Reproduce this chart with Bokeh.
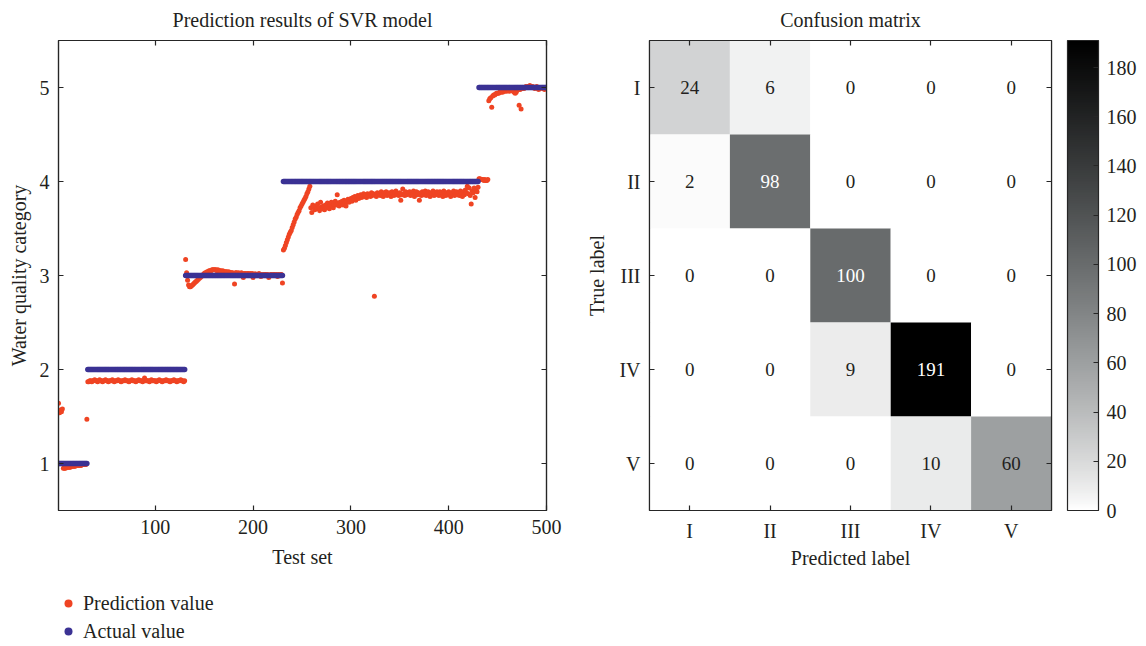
import numpy as np
from bokeh.plotting import figure
from bokeh.layouts import row, column
from bokeh.models import (Range1d, FixedTicker, LinearAxis, Legend, LegendItem,
                          LinearColorMapper, ColorBar, ColumnDataSource)
from bokeh.core.properties import value
from bokeh.embed import file_html
from bokeh.resources import INLINE

FONT = "Liberation Serif"
INK = "#231f20"
LINE = "#262626"
RED = "#ef4423"
BLUE = "#3b3294"

# ---------------- data: SVR predictions ----------------
class_values = [1, 2, 3, 4, 5]
class_sizes = [30, 100, 100, 200, 70]
x_ticks = [100, 200, 300, 400, 500]
y_ticks = [1, 2, 3, 4, 5]

pred_class_1 = [1.64, 1.54, 1.57, 1.55, 1.58,
                0.95, 0.95, 0.95, 0.96, 0.96, 0.96, 0.96, 0.96, 0.97, 0.97, 0.97, 0.97, 0.97,
                0.98, 0.98, 0.98, 0.98, 0.98, 0.98, 0.99, 0.99, 0.99, 0.99, 0.99,
                1.47]
pred_class_2 = [1.87, 1.87, 1.88, 1.88, 1.87, 1.88, 1.88, 1.89, 1.88, 1.88,
                1.87, 1.88, 1.89, 1.88, 1.88, 1.87, 1.88, 1.88, 1.89, 1.88,
                1.88, 1.87, 1.88, 1.88, 1.88, 1.89, 1.88, 1.87, 1.88, 1.88,
                1.88, 1.89, 1.88, 1.88, 1.87, 1.88, 1.88, 1.88, 1.89, 1.88,
                1.88, 1.88, 1.87, 1.88, 1.88, 1.89, 1.88, 1.88, 1.88, 1.87,
                1.88, 1.88, 1.89, 1.88, 1.88, 1.88, 1.87, 1.88, 1.91, 1.88,
                1.88, 1.88, 1.88, 1.87, 1.88, 1.89, 1.88, 1.88, 1.88, 1.88,
                1.87, 1.88, 1.88, 1.89, 1.88, 1.88, 1.87, 1.88, 1.88, 1.88,
                1.89, 1.88, 1.88, 1.88, 1.87, 1.88, 1.88, 1.88, 1.89, 1.88,
                1.88, 1.87, 1.88, 1.88, 1.88, 1.89, 1.88, 1.88, 1.87, 1.88]
pred_class_3 = [3.17, 3.03, 2.95, 2.90, 2.88, 2.88, 2.89, 2.90, 2.91, 2.92,
                2.93, 2.94, 2.95, 2.96, 2.97, 2.98, 2.99, 3.00, 3.01, 3.02,
                3.03, 3.03, 3.04, 3.04, 3.05, 3.05, 3.05, 3.06, 3.06, 3.06,
                3.06, 3.06, 3.05, 3.06, 3.05, 3.05, 3.05, 3.04, 3.05, 3.04,
                3.04, 3.04, 3.04, 3.03, 3.04, 3.03, 3.03, 3.03, 3.03, 3.02,
                2.91,
                3.03, 3.03, 3.02, 3.03, 3.02, 3.02, 3.03, 3.02, 2.98, 3.02,
                3.02, 3.01, 3.02, 3.02, 3.01, 3.02, 3.01, 3.02, 2.98, 3.01,
                3.02, 3.01, 3.01, 3.01, 3.02, 3.01, 2.99, 3.01, 3.00, 3.01,
                3.01, 3.01, 3.00, 3.01, 2.98, 3.00, 3.01, 3.01, 3.00, 3.01,
                3.01, 3.00, 3.01, 2.99, 3.01, 3.00, 3.01, 3.01,
                2.92]
pred_class_4 = [3.27, 3.29, 3.32, 3.35, 3.38, 3.41, 3.44, 3.46, 3.48,
                3.51, 3.54, 3.57, 3.60, 3.62, 3.65, 3.67, 3.69, 3.72, 3.74,
                3.76, 3.78, 3.80, 3.82, 3.84, 3.87, 3.89, 3.92, 3.95,
                3.72, 3.67, 3.75, 3.73, 3.70, 3.74, 3.71, 3.76, 3.72, 3.69,
                3.78, 3.73, 3.71, 3.74, 3.70, 3.75, 3.72, 3.77, 3.73, 3.71,
                3.75, 3.78, 3.74, 3.72, 3.76, 3.79, 3.75, 3.86, 3.77, 3.74,
                3.78, 3.76, 3.79, 3.75, 3.80, 3.77, 3.74, 3.79, 3.81, 3.78,
                3.80, 3.82, 3.79, 3.83, 3.81, 3.84, 3.80, 3.83, 3.85, 3.82,
                3.84, 3.86, 3.83, 3.85, 3.87, 3.84, 3.86, 3.83, 3.87, 3.85,
                3.86, 3.84, 3.88, 3.85, 3.87, 2.78, 3.86, 3.84, 3.88, 3.86,
                3.87, 3.85, 3.89, 3.86, 3.84, 3.88, 3.86, 3.89, 3.85, 3.87,
                3.88, 3.86, 3.84, 3.89, 3.87, 3.85, 3.88, 3.90, 3.86, 3.87,
                3.85, 3.88, 3.80, 3.86, 3.92, 3.87, 3.85, 3.89, 3.86, 3.88,
                3.87, 3.89, 3.85, 3.88, 3.86, 3.90, 3.84, 3.87, 3.89, 3.86,
                3.88, 3.80, 3.87, 3.85, 3.89, 3.86, 3.88, 3.90, 3.85, 3.87,
                3.89, 3.86, 3.84, 3.88, 3.87, 3.90, 3.85, 3.88, 3.86, 3.89,
                3.87, 3.85, 3.89, 3.86, 3.88, 3.84, 3.90, 3.87, 3.85, 3.88,
                3.86, 3.89, 3.87, 3.84, 3.88, 3.86, 3.90, 3.85, 3.87, 3.89,
                3.86, 3.88, 3.85, 3.90, 3.87, 3.84, 3.89, 3.86, 3.91, 3.88,
                3.95, 3.87, 3.93, 3.85, 3.76, 3.90, 3.88, 3.93, 3.83, 3.91,
                3.89, 3.94]
pred_class_5 = [4.03, 4.03, 4.02, 4.02, 4.02, 4.01, 4.02, 4.01, 4.01, 4.02,
                4.86, 4.88, 4.89, 4.79, 4.91, 4.92, 4.92, 4.93, 4.94, 4.94,
                4.94, 4.95, 4.95, 4.96, 4.95, 4.96, 4.96, 4.97, 4.96, 4.97,
                4.97, 4.96, 4.97, 4.98, 4.97, 4.96, 4.95, 4.94, 4.95, 4.97,
                4.98, 4.81, 4.98, 4.77, 4.99, 5.00, 4.99, 5.00, 5.01, 5.00,
                5.01, 5.01, 5.02, 5.01, 5.00, 5.01, 5.00, 4.99, 5.00, 5.01,
                4.99, 4.98, 4.99, 5.00, 5.00, 4.99, 5.00, 4.98, 4.99, 5.00]

# ---------------- data: confusion matrix ----------------
labels = ["I", "II", "III", "IV", "V"]
confusion = [[24, 6, 0, 0, 0],
             [2, 98, 0, 0, 0],
             [0, 0, 100, 0, 0],
             [0, 0, 9, 191, 0],
             [0, 0, 0, 10, 60]]
cbar_ticks = [0, 20, 40, 60, 80, 100, 120, 140, 160, 180]

prediction = pred_class_1 + pred_class_2 + pred_class_3 + pred_class_4 + pred_class_5
actual = list(np.repeat(class_values, class_sizes))
pred_src = ColumnDataSource(dict(x=list(range(1, len(prediction) + 1)), y=prediction))
act_src = ColumnDataSource(dict(x=list(range(1, len(actual) + 1)), y=actual))


def style_axis(ax):
    ax.axis_line_color = LINE
    ax.axis_line_width = 1.2
    ax.major_tick_in = 5
    ax.major_tick_out = 0
    ax.major_tick_line_color = LINE
    ax.major_tick_line_width = 1.2
    ax.minor_tick_line_color = None
    ax.major_label_text_font = FONT
    ax.major_label_text_font_size = "20px"
    ax.major_label_text_color = INK
    ax.axis_label_text_font = FONT
    ax.axis_label_text_font_size = "20px"
    ax.axis_label_text_font_style = "normal"
    ax.axis_label_text_color = INK
    ax.major_label_standoff = 9
    ax.axis_label_standoff = 9


def tick_only_axis(positions):
    # an axis with only inward (minor) ticks and no labels, for the top / right frame edges
    ax = LinearAxis(ticker=FixedTicker(ticks=[], minor_ticks=positions))
    ax.axis_line_color = LINE
    ax.axis_line_width = 1.2
    ax.major_tick_line_color = None
    ax.minor_tick_in = 5
    ax.minor_tick_out = 0
    ax.minor_tick_line_color = LINE
    ax.minor_tick_line_width = 1.2
    ax.major_label_standoff = 0
    return ax


def style_title(p, text):
    p.title.text = text
    p.title.align = "center"
    p.title.vertical_align = "top"
    p.title.text_font = FONT
    p.title.text_font_size = "20px"
    p.title.text_font_style = "normal"
    p.title.text_color = INK
    p.title.standoff = 15


# ---------------- left: SVR predictions ----------------
p1 = figure(width=568, height=580, x_range=Range1d(1, 500), y_range=Range1d(0.5, 5.5),
            output_backend="svg", toolbar_location=None,
            min_border_left=58, min_border_right=22, min_border_top=40, min_border_bottom=70)
style_title(p1, "Prediction results of SVR model")
p1.grid.visible = False
p1.outline_line_color = LINE
p1.outline_line_width = 1.2
p1.xaxis.ticker = FixedTicker(ticks=x_ticks)
p1.yaxis.ticker = FixedTicker(ticks=y_ticks)
p1.xaxis.axis_label = "Test set"
p1.yaxis.axis_label = "Water quality category"
for ax in p1.xaxis + p1.yaxis:
    style_axis(ax)
p1.yaxis.axis_label_standoff = 7
p1.add_layout(tick_only_axis(x_ticks), "above")
p1.add_layout(tick_only_axis(y_ticks), "right")

r_pred = p1.scatter("x", "y", source=pred_src, size=5, color=RED, line_width=0)
r_act = p1.scatter("x", "y", source=act_src, size=5.5, color=BLUE, line_width=0)

# legend strip below the left chart; its swatch renderers hold one undrawable (NaN) point
pl = figure(width=568, height=66, x_range=Range1d(0, 1), y_range=Range1d(0, 1),
            output_backend="svg", toolbar_location=None,
            x_axis_location=None, y_axis_location=None,
            min_border_left=58, min_border_right=0, min_border_top=11, min_border_bottom=0)
pl.grid.visible = False
pl.outline_line_color = None
nan_src = ColumnDataSource(dict(x=[float("nan")], y=[float("nan")]))
lg_pred = pl.scatter("x", "y", source=nan_src, size=5, color=RED, line_width=0)
lg_act = pl.scatter("x", "y", source=nan_src, size=5.5, color=BLUE, line_width=0)
legend = Legend(items=[LegendItem(label="Prediction value", renderers=[lg_pred]),
                       LegendItem(label="Actual value", renderers=[lg_act])],
                location="top_left", orientation="vertical", padding=0, margin=0,
                spacing=4, glyph_width=20, glyph_height=24, label_height=20,
                label_standoff=5, label_text_font=FONT, label_text_font_size="20px",
                label_text_color=INK, border_line_color=None, background_fill_alpha=0)
pl.add_layout(legend)

# ---------------- right: confusion matrix ----------------
pal = []
for i in range(256):
    t = i / 255
    g = 255 * (1 - t ** 0.85)
    tint = 3 * np.sin(np.pi * t)
    r = int(max(0, min(255, round(g - tint))))
    gg = int(max(0, min(255, round(g))))
    b = int(max(0, min(255, round(g + tint * 0.3))))
    pal.append("#%02x%02x%02x" % (r, gg, b))

vmax = max(max(rw) for rw in confusion)
mapper = LinearColorMapper(palette=pal, low=0, high=vmax)

xs, ys, cs, ts, tcs = [], [], [], [], []
for i, true_lab in enumerate(labels):
    for j, pred_lab in enumerate(labels):
        c = confusion[i][j]
        xs.append(pred_lab)
        ys.append(true_lab)
        cs.append(c)
        ts.append(str(c))
        tcs.append("white" if c > 0.45 * vmax else INK)
cm_src = ColumnDataSource(dict(x=xs, y=ys, count=cs, label=ts, tc=tcs))

p2 = figure(width=578, height=646, x_range=labels, y_range=list(reversed(labels)),
            output_backend="svg", toolbar_location=None,
            min_border_left=81, min_border_right=95, min_border_top=40, min_border_bottom=136)
style_title(p2, "Confusion matrix")
p2.grid.visible = False
p2.outline_line_color = LINE
p2.outline_line_width = 1.2
p2.xaxis.axis_label = "Predicted label"
p2.yaxis.axis_label = "True label"
for ax in p2.xaxis + p2.yaxis:
    style_axis(ax)
p2.yaxis.axis_label_standoff = 8
p2.xaxis.axis_label_standoff = 2
centers = [k + 0.5 for k in range(len(labels))]
p2.add_layout(tick_only_axis(centers), "above")
p2.add_layout(tick_only_axis(centers), "right")

p2.rect("x", "y", width=1, height=1, source=cm_src,
        fill_color={"field": "count", "transform": mapper}, line_color=None)
p2.text("x", "y", text="label", source=cm_src, text_align="center", text_baseline="middle",
        text_font=value(FONT), text_font_size="19px", text_color="tc")

cb = ColorBar(color_mapper=mapper, location=(418, 0), width=31, height=470, padding=0, margin=0,
              ticker=FixedTicker(ticks=cbar_ticks), major_tick_in=5, major_tick_out=0,
              major_tick_line_color=LINE, minor_tick_line_color=None,
              bar_line_color=LINE, bar_line_width=1.2, border_line_color=None,
              background_fill_alpha=0, label_standoff=8,
              major_label_text_font=FONT, major_label_text_font_size="20px",
              major_label_text_color=INK)
p2.add_layout(cb)

layout = row(column(p1, pl), p2)
open("out.html", "w").write(file_html(layout, INLINE))
